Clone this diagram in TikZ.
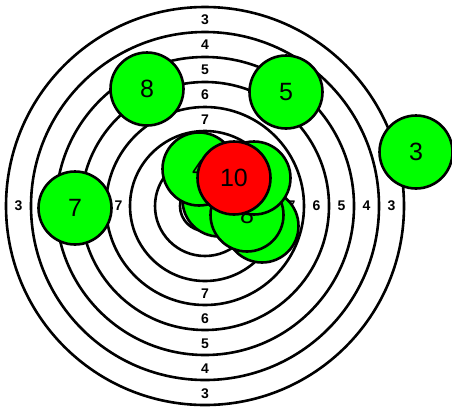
\documentclass[tikz,border=0pt]{standalone}
\usepackage{fontspec}
\setmainfont{Liberation Sans}
\usetikzlibrary{positioning}

\begin{document}
\begin{tikzpicture}[
        x=1pt, y=-1pt,
        ring/.style={line width=2.6pt},
        score/.style={font=\fontsize{14}{14}\selectfont\bfseries, inner sep=0pt},
        shot/.style={draw, circle, line width=2.6pt, fill=green, minimum size=73pt, inner sep=0pt, font=\fontsize{25}{25}\selectfont},
        bull/.style={shot, fill=red}
    ]
        \useasboundingbox (0,0) rectangle (452,408);
        \coordinate (centre) at (205,206);

        % Rings
        \draw[ring] (centre) circle[radius=199pt];
        \draw[ring] (centre) circle[radius=174pt];
        \draw[ring] (centre) circle[radius=149pt];
        \draw[ring] (centre) circle[radius=124pt];
        \draw[ring] (centre) circle[radius=99pt];
        \draw[ring] (centre) circle[radius=75pt];
        \draw[ring] (centre) circle[radius=50pt];
        \draw[ring] (centre) circle[radius=25pt];

        % Ring scores
        \foreach \r/\n in {186.5/3, 161.5/4, 136.5/5, 111.5/6, 86.5/7} {
            \node[score] (top\n) at (205,206.5-\r) {\n};
            \node[score] (bottom\n) at (205,207.5+\r) {\n};
            \node[score] (left\n) at (205-\r,206) {\n};
            \node[score] (right\n) at (205+\r,206) {\n};
        }

        % Shots
        \node[shot] (shotA) at (219,200) {};
        \node[shot] (shotB) at (262,226) {};
        \node[shot] (shot8b) at (247,215) {8};
        \node[shot] (shotC) at (254,178) {};
        \node[shot] (shot4) at (199,169) {4};
        \node[bull] (shot10) at (234,178) {10};
        \node[shot] (shot8) at (147,89) {8};
        \node[shot] (shot5) at (286,92) {5};
        \node[shot] (shot7) at (75,208) {7};
        \node[shot] (shot3) at (416,152) {3};
    \end{tikzpicture}
\end{document}
